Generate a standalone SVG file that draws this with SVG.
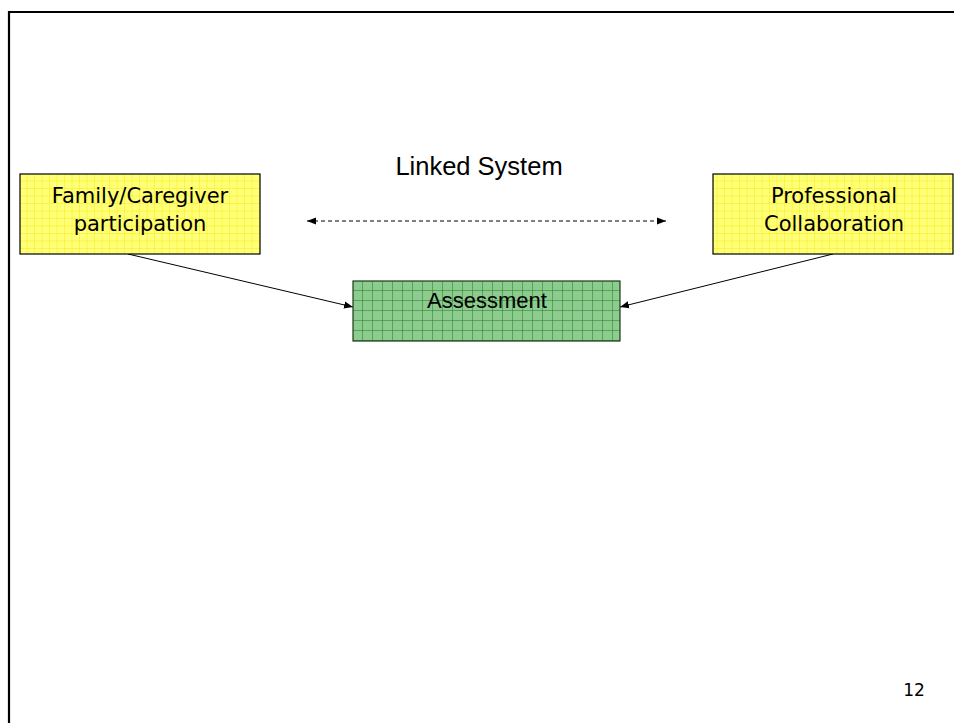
<svg xmlns="http://www.w3.org/2000/svg" width="954" height="723" viewBox="0 0 954 723">
<style>
.box-y{fill:url(#gridY);stroke:#000;stroke-width:1.2}
.box-g{fill:url(#gridG);stroke:#1a3a1a;stroke-width:1.2}
.comic{font-family:"DejaVu Sans","Noto Sans",sans-serif;font-size:21px;fill:#000;text-anchor:middle}
.arial{font-family:"Liberation Sans",Arial,sans-serif;fill:#000;text-anchor:middle}
.conn{stroke:#000;stroke-width:1;fill:none}
</style>
<defs>
<pattern id="gridY" patternUnits="userSpaceOnUse" x="20" y="174" width="7.5" height="7.5">
<rect width="7.5" height="7.5" fill="#FFFF78"/>
<path d="M7.5 0V7.5M0 7.5H7.5" stroke="#F2E600" stroke-width="0.8"/>
</pattern>
<pattern id="gridG" patternUnits="userSpaceOnUse" x="353" y="281" width="10" height="10">
<rect width="10" height="10" fill="#8ECB8E"/>
<path d="M10 0V10M0 10H10" stroke="#1A8026" stroke-width="1"/>
</pattern>
<marker id="ah" viewBox="0 0 10 10" refX="10" refY="5" markerWidth="9" markerHeight="9" markerUnits="userSpaceOnUse" orient="auto-start-reverse">
<path d="M0 1 L10 5 L0 9 Z" fill="#000"/>
</marker>
</defs>
<rect x="0" y="0" width="954" height="723" fill="#fff"/>
<path d="M9 723V12H954" fill="none" stroke="#000" stroke-width="2.2"/>
<g id="connectors">
<line class="conn" x1="128" y1="254" x2="353" y2="307" marker-end="url(#ah)"/>
<line class="conn" x1="833" y1="254" x2="620" y2="307" marker-end="url(#ah)"/>
<line class="conn" x1="307" y1="221" x2="666" y2="221" stroke-dasharray="4 3" marker-start="url(#ah)" marker-end="url(#ah)"/>
</g>
<g id="node-family">
<rect class="box-y" x="20" y="174" width="240" height="80"/>
<text class="comic" x="140" y="203">Family/Caregiver</text>
<text class="comic" x="140" y="231">participation</text>
</g>
<g id="node-professional">
<rect class="box-y" x="713" y="174" width="240" height="80"/>
<text class="comic" x="834" y="203">Professional</text>
<text class="comic" x="834" y="231">Collaboration</text>
</g>
<g id="node-assessment">
<rect class="box-g" x="353" y="281" width="267" height="60"/>
<text class="arial" x="487" y="308" font-size="22">Assessment</text>
</g>
<g id="label-linked">
<text class="arial" x="479" y="175" font-size="25.5">Linked System</text>
</g>
<text x="914" y="696" font-family="DejaVu Sans,sans-serif" font-size="17" text-anchor="middle" fill="#000">12</text>
</svg>
